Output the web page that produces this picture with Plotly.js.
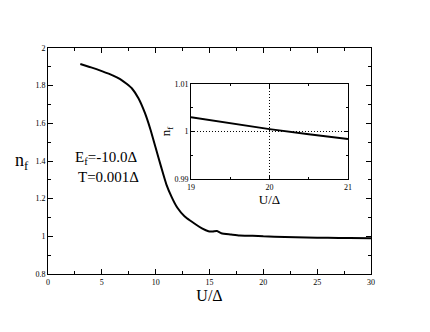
<!DOCTYPE html>
<html><head><meta charset="utf-8">
<script src="https://cdn.plot.ly/plotly-3.0.1.min.js"></script>
<style>body{margin:0;background:#fff}</style>
</head><body><div id="chart" style="width:430px;height:332px"></div>
<script>
const U = [3, 4, 5, 6, 6.7, 7.3, 7.8, 8.4, 9, 9.5, 10, 10.5, 11, 11.5, 12, 12.7, 13.3, 13.8, 14.3, 14.9, 15.3, 15.7, 16.1, 17, 17.8, 19, 20, 22, 24, 26, 28, 30];
const nf = [1.915, 1.897, 1.877, 1.855, 1.835, 1.81, 1.785, 1.733, 1.655, 1.57, 1.47, 1.37, 1.275, 1.207, 1.153, 1.105, 1.08, 1.06, 1.042, 1.027, 1.026, 1.028, 1.016, 1.01, 1.005, 1.003, 1.0, 0.997, 0.994, 0.992, 0.991, 0.99];
const Uin = [19, 19.5, 20, 20.5, 21];
const nfIn = [1.003, 1.0017, 1.0005, 0.9994, 0.9984];
const refU = [20];
const refN = [1.0];

const serif = "Liberation Serif, Times New Roman, serif";
const traces = [
  {x: U, y: nf, mode: 'lines', line: {color: '#000', width: 2, shape: 'spline', smoothing: 0.6}, xaxis: 'x', yaxis: 'y', hoverinfo: 'skip'},
  {x: Uin, y: nfIn, mode: 'lines', line: {color: '#000', width: 2}, xaxis: 'x2', yaxis: 'y2', hoverinfo: 'skip'},
  {x: [refU[0], refU[0]], y: [0.99, 1.01], mode: 'lines', line: {color: '#000', width: 1, dash: '1px,2px'}, xaxis: 'x2', yaxis: 'y2'},
  {x: [19, 21], y: [refN[0], refN[0]], mode: 'lines', line: {color: '#000', width: 1, dash: '1px,2px'}, xaxis: 'x2', yaxis: 'y2'}
];
const axBase = {showline: true, linecolor: '#000', linewidth: 1, mirror: 'ticks', ticks: 'inside', tickcolor: '#000', showgrid: false, zeroline: false, tickfont: {family: serif, size: 8, color: '#000'}};
const layout = {
  width: 430, height: 332, showlegend: false,
  paper_bgcolor: '#fff', plot_bgcolor: '#fff',
  margin: {l: 48, r: 59, t: 48, b: 58},
  font: {family: serif, color: '#000'},
  xaxis: Object.assign({}, axBase, {range: [0, 30], dtick: 5, ticklen: 5,
    minor: {dtick: 2.5, ticklen: 3, ticks: 'inside', tickcolor: '#000'},
    title: {text: 'U/Δ', font: {family: serif, size: 16}, standoff: 4}}),
  yaxis: Object.assign({}, axBase, {range: [0.8, 2], dtick: 0.2, ticklen: 5,
    minor: {dtick: 0.1, ticklen: 3, ticks: 'inside', tickcolor: '#000'}}),
  xaxis2: Object.assign({}, axBase, {anchor: 'y2', domain: [0.4427, 0.9288], range: [19, 21], dtick: 1, ticklen: 4,
    minor: {dtick: 0.5, ticklen: 2, ticks: 'inside', tickcolor: '#000'},
    title: {text: 'U/Δ', font: {family: serif, size: 13}, standoff: 2}}),
  yaxis2: Object.assign({}, axBase, {anchor: 'x2', domain: [0.4204, 0.8407], range: [0.99, 1.01], dtick: 0.01, ticklen: 4,
    minor: {dtick: 0.005, ticklen: 2, ticks: 'inside', tickcolor: '#000'},
    title: {text: 'n<sub>f</sub>', font: {family: serif, size: 13}, standoff: 0}}),
  annotations: [
    {xref: 'paper', yref: 'paper', x: -0.08, y: 0.5, xanchor: 'center', yanchor: 'middle', showarrow: false, text: 'n<sub>f</sub>', font: {family: serif, size: 18}},
    {xref: 'x', yref: 'y', x: 2.3, y: 1.415, xanchor: 'left', yanchor: 'middle', showarrow: false, text: 'E<sub>f</sub>=-10.0Δ', font: {family: serif, size: 15}},
    {xref: 'x', yref: 'y', x: 2.6, y: 1.315, xanchor: 'left', yanchor: 'middle', showarrow: false, text: 'T=0.001Δ', font: {family: serif, size: 15}}
  ]
};
Plotly.newPlot('chart', traces, layout, {displayModeBar: false, staticPlot: true});
</script></body></html>
